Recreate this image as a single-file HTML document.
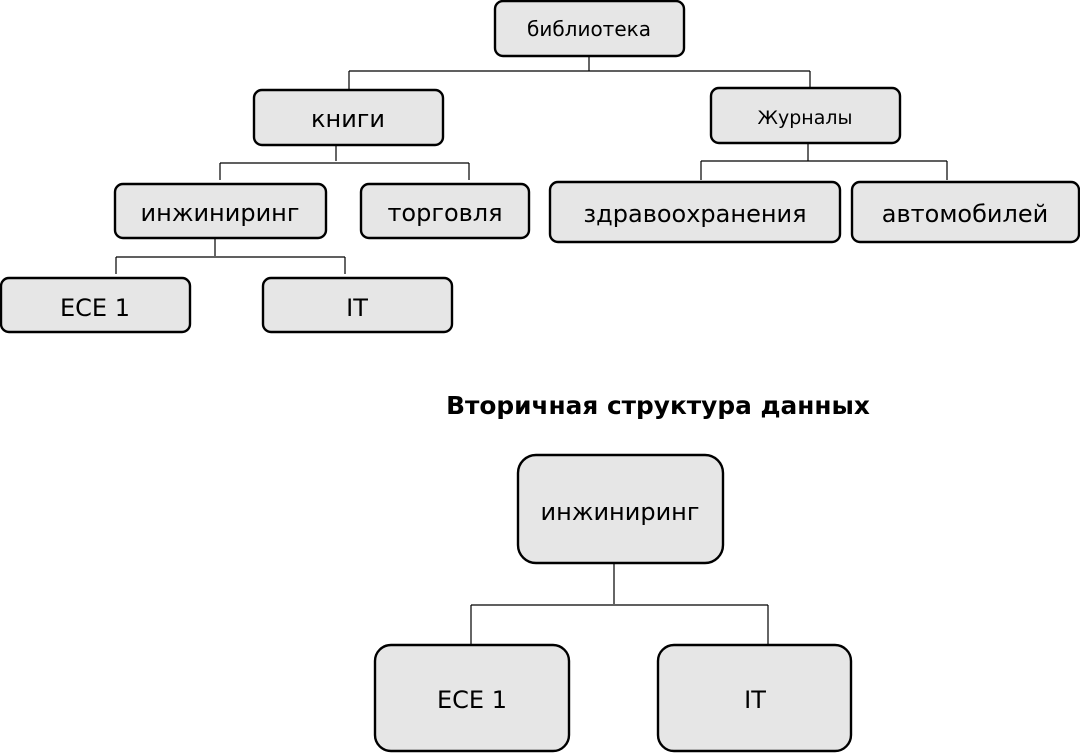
<!DOCTYPE html>
<html><head><meta charset="utf-8"><style>html,body{margin:0;padding:0;background:#fff}svg{display:block}</style></head>
<body>
<svg width="1080" height="753" viewBox="0 0 1080 753" xmlns="http://www.w3.org/2000/svg" font-family="'DejaVu Sans','Liberation Sans',sans-serif">
<g fill="none" stroke="#000" stroke-width="1.2">
<path d="M589 56V71M349 71H810M349 71V89M810 71V88"/>
<path d="M336 145V161M220 163H469M220 163V180M469 163V180"/>
<path d="M808 143V161M701 161H947M701 161V180M947 161V180"/>
<path d="M215 238V256M116 257H345M116 257V274M345 257V274"/>
<path d="M614 563V604M471 605H768M471 605V645M768 605V648"/>
</g>
<g fill="#e6e6e6" stroke="#000" stroke-width="2.4">
<rect x="495" y="1" width="189" height="55" rx="8"/>
<rect x="254" y="90" width="189" height="55" rx="8"/>
<rect x="711" y="88" width="189" height="55" rx="8"/>
<rect x="115" y="184" width="211" height="54" rx="8"/>
<rect x="361" y="184" width="168" height="54" rx="8"/>
<rect x="550" y="182" width="290" height="60" rx="8"/>
<rect x="852" y="182" width="227" height="60" rx="8"/>
<rect x="1" y="278" width="189" height="54" rx="8"/>
<rect x="263" y="278" width="189" height="54" rx="8"/>
<rect x="518" y="455" width="205" height="108" rx="18"/>
<rect x="375" y="645" width="194" height="106" rx="16"/>
<rect x="658" y="645" width="193" height="106" rx="16"/>
</g>
<g text-anchor="middle" fill="#000">
<text x="589" y="36" font-size="20">библиотека</text>
<text x="348" y="127" font-size="24">книги</text>
<text x="805" y="124" font-size="19">Журналы</text>
<text x="220" y="221" font-size="24">инжиниринг</text>
<text x="445" y="221" font-size="24">торговля</text>
<text x="695" y="222" font-size="24">здравоохранения</text>
<text x="965" y="222" font-size="24">автомобилей</text>
<text x="95" y="316" font-size="24">ECE 1</text>
<text x="357" y="316" font-size="24">IT</text>
<text x="658" y="414" font-size="24.8" font-weight="bold">Вторичная структура данных</text>
<text x="620" y="520" font-size="24">инжиниринг</text>
<text x="472" y="708" font-size="24">ECE 1</text>
<text x="755" y="708" font-size="24">IT</text>
</g>
</svg>
</body></html>
